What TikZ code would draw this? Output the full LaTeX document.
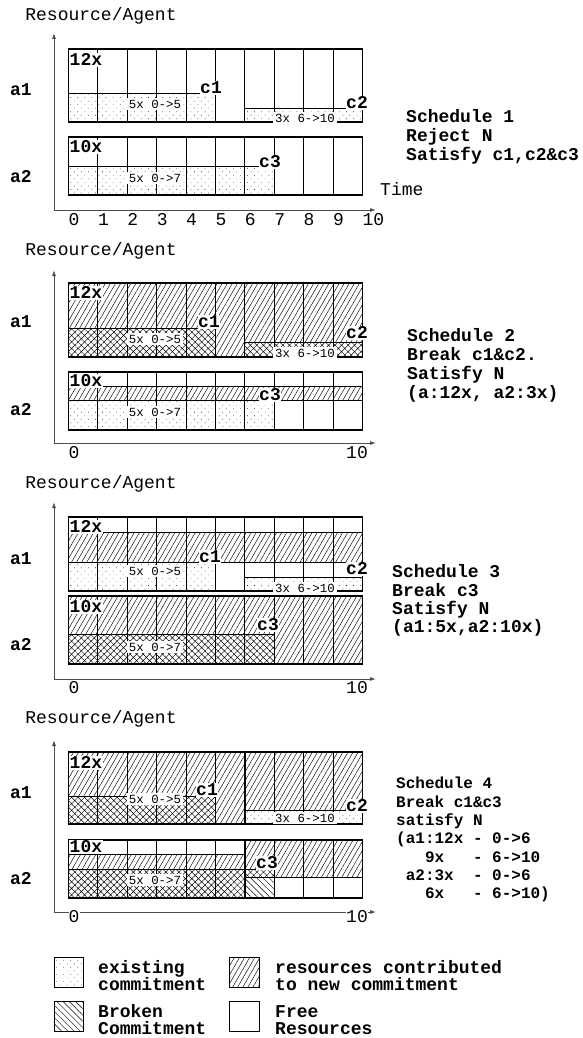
\documentclass[tikz,border=0pt]{standalone}
\usepackage{fontspec}
\setmonofont{Liberation Mono}
\usetikzlibrary{patterns.meta,arrows.meta}
\tikzset{
  mono/.style={font=\ttfamily\fontsize{18}{19}\selectfont, inner sep=0pt, text height=11.9pt, text depth=0pt},
  bmono/.style={font=\ttfamily\bfseries\fontsize{18}{19}\selectfont, inner sep=0pt, text height=11.9pt, text depth=0pt},
  blbl/.style={bmono, fill=white, inner xsep=0.5pt, inner ysep=1pt},
  tinylbl/.style={font=\ttfamily\fontsize{12.4}{13}\selectfont, fill=white, inner xsep=2pt, inner ysep=1.5pt, text height=8.2pt, text depth=0pt},
  tick/.style={mono, fill=white, inner ysep=1pt, anchor=west},
  sched/.style={bmono, anchor=west},
  sched4/.style={font=\ttfamily\bfseries\fontsize{16}{18}\selectfont, inner sep=0pt, text height=10.5pt, text depth=0pt, anchor=west},
  dotfill/.style={pattern={Dots[angle=45,distance=5pt,radius=0.45pt]}, pattern color=black!85},
  hatchfill/.style={pattern={Lines[angle=60,distance=4.4pt,line width=0.45pt]}},
  crossfill/.style={pattern={Hatch[angle=45,distance=4.6pt,line width=0.45pt]}},
  brokenfill/.style={pattern={Lines[angle=-45,distance=4.4pt,line width=0.45pt]}},
  colline/.style={line width=0.8pt},
  boxline/.style={line width=1.4pt},
  thickv/.style={line width=1.6pt},
  axisline/.style={line width=0.9pt, black!70, -{Latex[length=6pt,width=4pt]}},
  legbox/.style={line width=0.7pt},
}
\newcommand{\cols}[2]{\foreach \i in {1,...,9} {\draw[colline] ({68.5+29.38*\i},#1) -- ({68.5+29.38*\i},#2);}}
\begin{document}
\begin{tikzpicture}[x=1pt,y=-1pt]
\useasboundingbox (0,0) rectangle (582,1038);

% ================= Panel 1 =================
\node[mono] (ra1) at (101,15) {Resource/Agent};
\coordinate (o1) at (54,210);
\coordinate (t1) at (54,33);
\coordinate (r1) at (376,210);
\draw[axisline] (o1) -- (t1);
\draw[axisline] (o1) -- (r1);
% a1
\fill[dotfill] (68.5,93) rectangle (215.4,122);
\fill[dotfill] (244.8,108) rectangle (362.3,122);
\cols{49}{122}
\draw[colline] (68.5,93) -- (215.4,93);
\draw[colline] (244.8,108) -- (362.3,108);
\draw[boxline] (68.5,49) rectangle (362.3,122);
% a2
\fill[dotfill] (68.5,166) rectangle (274.2,195);
\cols{137}{195}
\draw[colline] (68.5,166) -- (274.2,166);
\draw[boxline] (68.5,137) rectangle (362.3,195);
% labels
\node[blbl,anchor=west] (p1x12) at (69,60) {12x};
\node[blbl] (p1c1) at (211,88) {c1};
\node[blbl] (p1c2) at (357,103) {c2};
\node[tinylbl] (p1l1) at (155,104) {5x 0->5};
\node[tinylbl] (p1l2) at (305,118) {3x 6->10};
\node[blbl,anchor=west] (p1x10) at (69,147) {10x};
\node[blbl] (p1c3) at (270,162) {c3};
\node[tinylbl] (p1l3) at (155,178) {5x 0->7};
\node[bmono] (p1a1) at (21,90) {a1};
\node[bmono] (p1a2) at (21,177) {a2};
\foreach \i in {0,...,10} {\node[mono,anchor=west] (p1t\i) at ({68.5+29.38*\i},220) {\i};}
\node[mono,anchor=west] (time) at (380,190) {Time};
\node[sched] (s1a) at (406,117) {Schedule 1};
\node[sched] (s1b) at (406,136) {Reject N};
\node[sched] (s1c) at (406,155) {Satisfy c1,c2\&c3};

% ================= Panel 2 =================
\node[mono] (ra2) at (101,250) {Resource/Agent};
\coordinate (o2) at (54,443);
\coordinate (t2) at (54,270);
\coordinate (r2) at (376,443);
\draw[axisline] (o2) -- (t2);
\draw[axisline] (o2) -- (r2);
% a1
\fill[hatchfill] (68.5,283) rectangle (215.4,328);
\fill[hatchfill] (215.4,283) rectangle (244.8,357);
\fill[hatchfill] (244.8,283) rectangle (362.3,342);
\fill[crossfill] (68.5,328) rectangle (215.4,357);
\fill[crossfill] (244.8,342) rectangle (362.3,357);
\cols{283}{357}
\draw[colline] (68.5,328) -- (215.4,328);
\draw[colline] (244.8,342) -- (362.3,342);
\draw[boxline] (68.5,283) rectangle (362.3,357);
% a2
\fill[hatchfill] (68.5,386) rectangle (362.3,400);
\fill[dotfill] (68.5,400) rectangle (274.2,430);
\cols{372}{430}
\draw[colline] (68.5,386) -- (362.3,386);
\draw[colline] (68.5,400) -- (362.3,400);
\draw[boxline] (68.5,372) rectangle (362.3,430);
% labels
\node[blbl,anchor=west] (p2x12) at (69,293) {12x};
\node[blbl] (p2c1) at (209,322) {c1};
\node[blbl] (p2c2) at (357,333) {c2};
\node[tinylbl] (p2l1) at (155,339) {5x 0->5};
\node[tinylbl] (p2l2) at (305,353) {3x 6->10};
\node[blbl,anchor=west] (p2x10) at (69,381) {10x};
\node[blbl] (p2c3) at (270,395) {c3};
\node[tinylbl] (p2l3) at (155,412) {5x 0->7};
\node[bmono] (p2a1) at (21,322) {a1};
\node[bmono] (p2a2) at (21,410) {a2};
\node[tick] (p2t0) at (68.5,453) {0};
\node[tick] (p2t10) at (346,453) {10};
\node[sched] (s2a) at (407,336) {Schedule 2};
\node[sched] (s2b) at (407,355) {Break c1\&c2.};
\node[sched] (s2c) at (407,374) {Satisfy N};
\node[sched] (s2d) at (407,393) {(a:12x, a2:3x)};

% ================= Panel 3 =================
\node[mono] (ra3) at (101,483) {Resource/Agent};
\coordinate (o3) at (54,679);
\coordinate (t3) at (54,502);
\coordinate (r3) at (376,679);
\draw[axisline] (o3) -- (t3);
\draw[axisline] (o3) -- (r3);
% a1
\fill[hatchfill] (68.5,532) rectangle (362.3,562);
\fill[dotfill] (68.5,562) rectangle (215.4,591);
\fill[dotfill] (244.8,577) rectangle (362.3,591);
\cols{517}{591}
\draw[colline] (68.5,532) -- (362.3,532);
\draw[colline] (68.5,562) -- (362.3,562);
\draw[colline] (244.8,577) -- (362.3,577);
\draw[boxline] (68.5,517) rectangle (362.3,591);
% a2
\fill[hatchfill] (68.5,596) rectangle (274.2,634);
\fill[hatchfill] (274.2,596) rectangle (362.3,664);
\fill[crossfill] (68.5,634) rectangle (274.2,664);
\cols{596}{664}
\draw[colline] (68.5,634) -- (274.2,634);
\draw[boxline] (68.5,596) rectangle (362.3,664);
% labels
\node[blbl,anchor=west] (p3x12) at (69,527) {12x};
\node[blbl] (p3c1) at (210,557) {c1};
\node[blbl] (p3c2) at (357,569) {c2};
\node[tinylbl] (p3l1) at (155,571) {5x 0->5};
\node[tinylbl] (p3l2) at (305,588) {3x 6->10};
\node[blbl,anchor=west] (p3x10) at (69,607) {10x};
\node[blbl] (p3c3) at (268,625) {c3};
\node[tinylbl] (p3l3) at (155,647) {5x 0->7};
\node[bmono] (p3a1) at (21,559) {a1};
\node[bmono] (p3a2) at (21,645) {a2};
\node[tick] (p3t0) at (68.5,688) {0};
\node[tick] (p3t10) at (346,688) {10};
\node[sched] (s3a) at (392,572) {Schedule 3};
\node[sched] (s3b) at (392,591) {Break c3};
\node[sched] (s3c) at (392,609) {Satisfy N};
\node[sched] (s3d) at (392,627) {(a1:5x,a2:10x)};

% ================= Panel 4 =================
\node[mono] (ra4) at (101,718) {Resource/Agent};
\coordinate (o4) at (54,912);
\coordinate (t4) at (54,740);
\coordinate (r4) at (376,912);
\draw[axisline] (o4) -- (t4);
\draw[axisline] (o4) -- (r4);
% a1
\fill[hatchfill] (68.5,752) rectangle (215.4,796);
\fill[hatchfill] (215.4,752) rectangle (244.8,824);
\fill[hatchfill] (244.8,752) rectangle (362.3,810);
\fill[crossfill] (68.5,796) rectangle (215.4,824);
\fill[dotfill] (244.8,810) rectangle (362.3,824);
\cols{752}{824}
\draw[colline] (68.5,796) -- (215.4,796);
\draw[colline] (244.8,810) -- (362.3,810);
\draw[thickv] (244.8,752) -- (244.8,824);
\draw[boxline] (68.5,752) rectangle (362.3,824);
% a2
\fill[hatchfill] (68.5,854) rectangle (244.8,869);
\fill[hatchfill] (244.8,840) rectangle (274.2,869);
\fill[hatchfill] (274.2,840) rectangle (362.3,877);
\fill[crossfill] (68.5,869) rectangle (244.8,898);
\fill[crossfill] (244.8,869) rectangle (274.2,877);
\fill[brokenfill] (244.8,877) rectangle (274.2,898);
\cols{840}{898}
\draw[colline] (68.5,854) -- (244.8,854);
\draw[colline] (68.5,869) -- (274.2,869);
\draw[colline] (244.8,877) -- (362.3,877);
\draw[thickv] (244.8,840) -- (244.8,898);
\draw[boxline] (68.5,840) rectangle (362.3,898);
% labels
\node[blbl,anchor=west] (p4x12) at (69,763) {12x};
\node[blbl] (p4c1) at (207,790) {c1};
\node[blbl] (p4c2) at (357,806) {c2};
\node[tinylbl] (p4l1) at (155,799) {5x 0->5};
\node[tinylbl] (p4l2) at (305,818) {3x 6->10};
\node[blbl,anchor=west] (p4x10) at (69,847) {10x};
\node[blbl] (p4c3) at (267,863) {c3};
\node[tinylbl] (p4l3) at (155,880) {5x 0->7};
\node[bmono] (p4a1) at (21,793) {a1};
\node[bmono] (p4a2) at (21,879) {a2};
\node[tick] (p4t0) at (68.5,917) {0};
\node[tick] (p4t10) at (346,917) {10};
\node[sched4] (s4a) at (396,783) {Schedule 4};
\node[sched4] (s4b) at (396,802) {Break c1\&c3};
\node[sched4] (s4c) at (396,820) {satisfy N};
\node[sched4] (s4d) at (396,838) {(a1:12x~-~0->6};
\node[sched4] (s4e) at (396,857) {~~~9x~~~-~6->10};
\node[sched4] (s4f) at (396,875) {~a2:3x~~-~0->6};
\node[sched4] (s4g) at (396,893) {~~~6x~~~-~6->10)};

% ================= Legend =================
\fill[dotfill] (54,957) rectangle (83,987);
\draw[legbox] (54,957) rectangle (83,987);
\fill[hatchfill] (229,957) rectangle (259,987);
\draw[legbox] (229,957) rectangle (259,987);
\fill[brokenfill] (54,1001) rectangle (83,1031);
\draw[legbox] (54,1001) rectangle (83,1031);
\draw[legbox] (229,1001) rectangle (259,1031);
\node[sched] (lg1a) at (98,968) {existing};
\node[sched] (lg1b) at (98,985) {commitment};
\node[sched] (lg2a) at (275,968) {resources contributed};
\node[sched] (lg2b) at (275,985) {to new commitment};
\node[sched] (lg3a) at (98,1012) {Broken};
\node[sched] (lg3b) at (98,1029) {Commitment};
\node[sched] (lg4a) at (275,1012) {Free};
\node[sched] (lg4b) at (275,1029) {Resources};
\end{tikzpicture}
\end{document}
